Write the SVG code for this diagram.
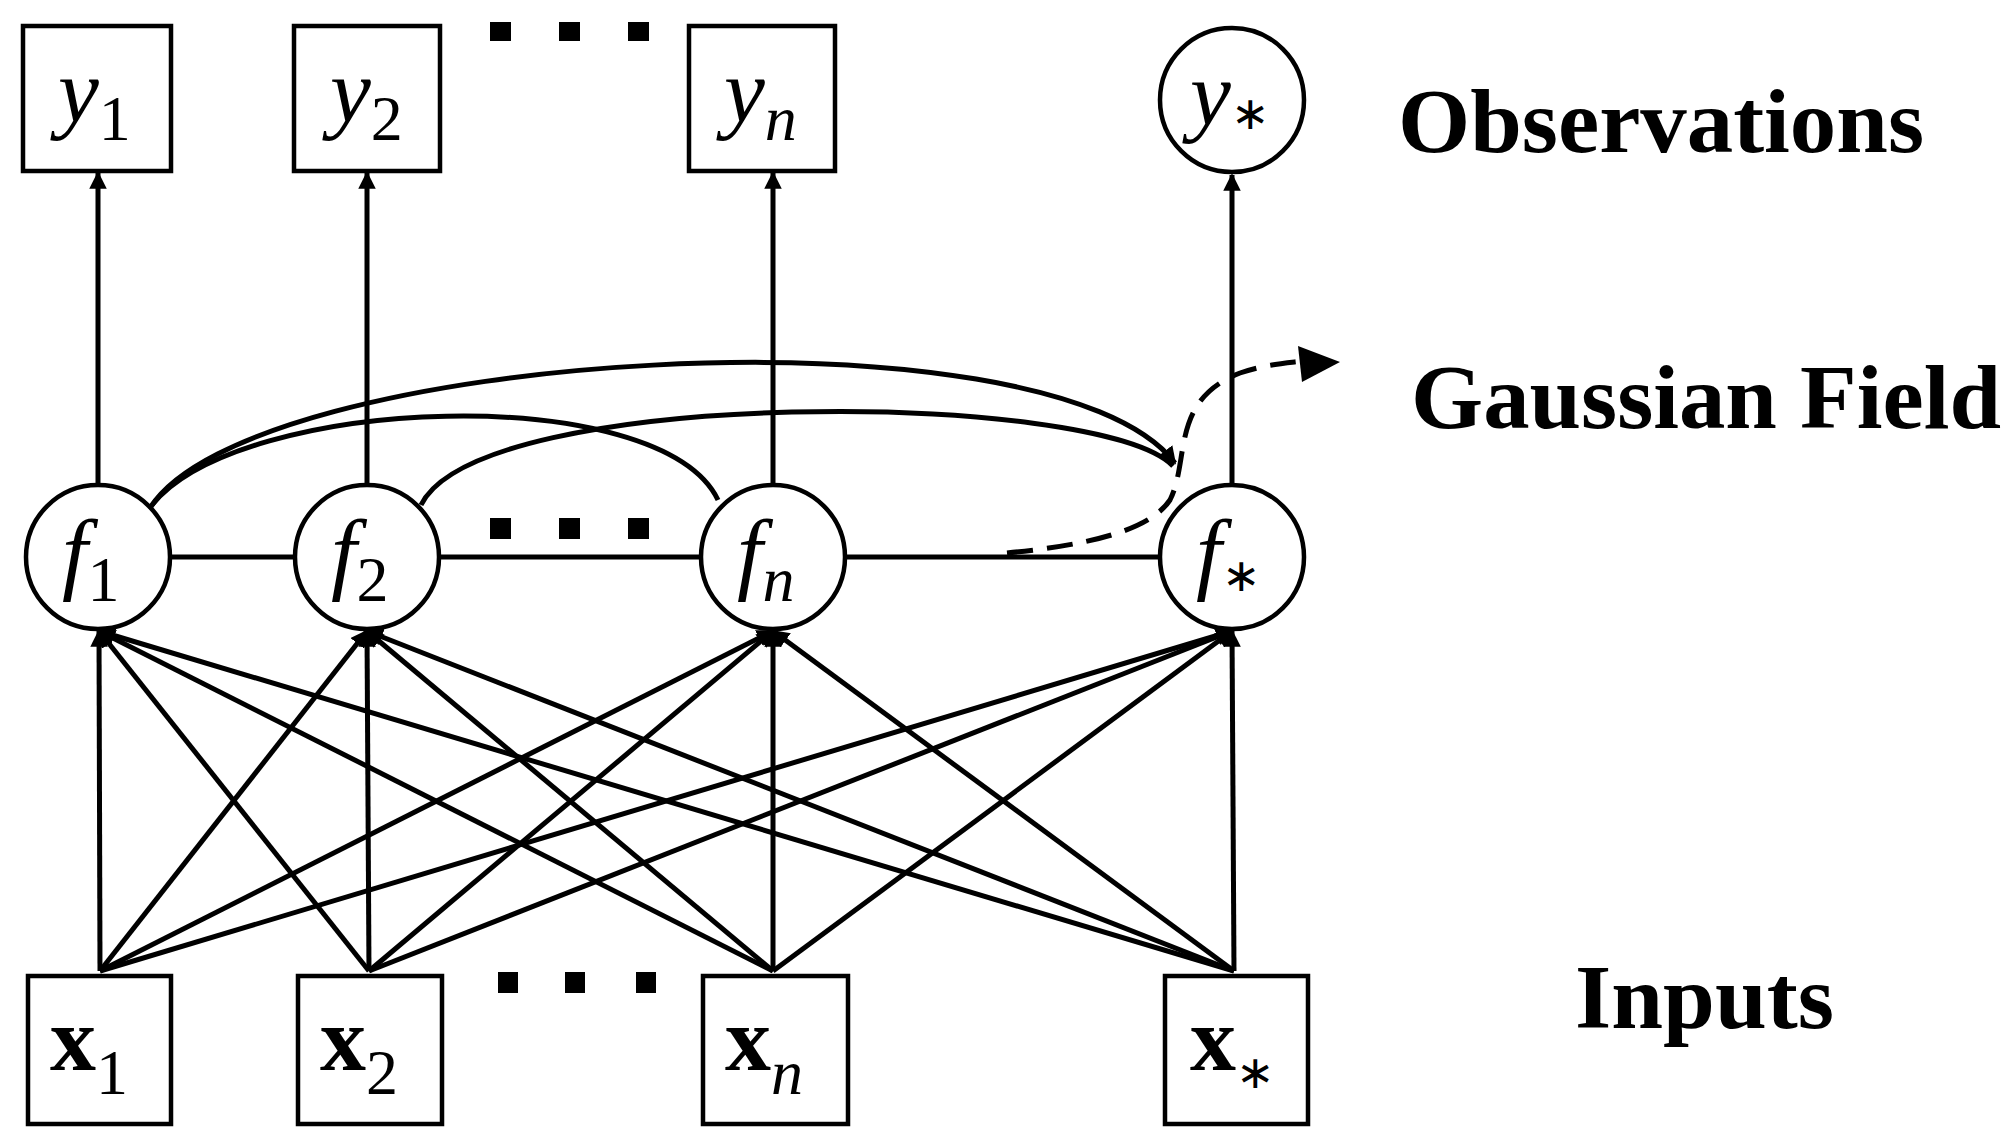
<svg xmlns="http://www.w3.org/2000/svg" width="2011" height="1137" viewBox="0 0 2011 1137">
<style>
.n{fill:#fff;stroke:#000;stroke-width:4.5}
.c{stroke:#000;stroke-width:5;fill:none}
.v{font-family:"Liberation Serif",serif;font-style:italic;font-size:92px}
.s{font-family:"Liberation Serif",serif;font-size:64px;font-style:normal;font-weight:normal}
.si{font-family:"Liberation Serif",serif;font-size:64px;font-style:italic;font-weight:normal}
.st{font-family:"Liberation Serif",serif;font-size:46px;font-style:normal;font-weight:normal}
.b{font-family:"Liberation Serif",serif;font-weight:bold;font-size:92px}
.lab{font-family:"Liberation Serif",serif;font-weight:bold;font-size:90px}
.d{fill:#000}
</style>
<defs>
<marker id="a" viewBox="0 0 10 10" refX="9" refY="5" markerWidth="3.5" markerHeight="3.5" orient="auto"><path d="M0,0L10,5L0,10z"/></marker>
</defs>
<g id="connectors">
<line class="c" x1="98" y1="484" x2="98" y2="173" marker-end="url(#a)"/>
<line class="c" x1="367" y1="484" x2="367" y2="173" marker-end="url(#a)"/>
<line class="c" x1="773" y1="484" x2="773" y2="173" marker-end="url(#a)"/>
<line class="c" x1="1232" y1="484" x2="1232" y2="175" marker-end="url(#a)"/>
<line class="c" x1="170" y1="557" x2="294" y2="557"/>
<line class="c" x1="440" y1="557" x2="700" y2="557"/>
<line class="c" x1="846" y1="557" x2="1159" y2="557"/>
<path class="c" d="M150,508 C250,350 1050,300 1175,463" marker-end="url(#a)"/>
<path class="c" d="M152,505 C240,395 660,380 718,500"/>
<path class="c" d="M421,505 C480,385 1100,390 1173,466"/>
<path d="M1007,553 C1090,545 1150,530 1170,500 C1190,460 1170,400 1240,373 C1270,363 1290,363 1310,360" fill="none" stroke="#000" stroke-width="5" stroke-dasharray="26,14"/>
<path d="M1298,346 L1340,362 L1302,382 z" fill="#000"/>
<g marker-end="url(#a)">
<line class="c" x1="100" y1="971" x2="99" y2="631"/>
<line class="c" x1="100" y1="971" x2="367" y2="631"/>
<line class="c" x1="100" y1="971" x2="773" y2="631"/>
<line class="c" x1="100" y1="971" x2="1232" y2="631"/>
<line class="c" x1="369" y1="971" x2="99" y2="631"/>
<line class="c" x1="369" y1="971" x2="367" y2="631"/>
<line class="c" x1="369" y1="971" x2="773" y2="631"/>
<line class="c" x1="369" y1="971" x2="1232" y2="631"/>
<line class="c" x1="773" y1="971" x2="99" y2="631"/>
<line class="c" x1="773" y1="971" x2="367" y2="631"/>
<line class="c" x1="773" y1="971" x2="773" y2="631"/>
<line class="c" x1="773" y1="971" x2="1232" y2="631"/>
<line class="c" x1="1234" y1="971" x2="99" y2="631"/>
<line class="c" x1="1234" y1="971" x2="367" y2="631"/>
<line class="c" x1="1234" y1="971" x2="773" y2="631"/>
<line class="c" x1="1234" y1="971" x2="1232" y2="631"/>
</g>
</g>
<g id="y1"><rect class="n" x="23" y="26" width="148" height="145"/><text class="v" x="58" y="122">y<tspan class="s" dy="18">1</tspan></text></g>
<g id="y2"><rect class="n" x="294" y="26" width="146" height="145"/><text class="v" x="330" y="122">y<tspan class="s" dy="18">2</tspan></text></g>
<g id="yn"><rect class="n" x="689" y="26" width="146" height="145"/><text class="v" x="724" y="122">y<tspan class="si" dy="18">n</tspan></text></g>
<g id="ystar"><circle class="n" cx="1232" cy="100" r="72"/><text class="v" x="1190" y="125">y<tspan class="st" dy="4">∗</tspan></text></g>
<g id="dots1"><rect class="d" x="490" y="22" width="21" height="19"/><rect class="d" x="559" y="22" width="21" height="19"/><rect class="d" x="628" y="22" width="21" height="19"/></g>
<g id="f1"><circle class="n" cx="98" cy="557" r="72"/><text class="v" x="62" y="583">f<tspan class="s" dy="18">1</tspan></text></g>
<g id="f2"><circle class="n" cx="367" cy="557" r="72"/><text class="v" x="331" y="583">f<tspan class="s" dy="18">2</tspan></text></g>
<g id="fn"><circle class="n" cx="773" cy="557" r="72"/><text class="v" x="737" y="583">f<tspan class="si" dy="18">n</tspan></text></g>
<g id="fstar"><circle class="n" cx="1232" cy="557" r="72"/><text class="v" x="1196" y="583">f<tspan class="st" dy="8">∗</tspan></text></g>
<g id="dots2"><rect class="d" x="490" y="518" width="21" height="21"/><rect class="d" x="559" y="518" width="21" height="21"/><rect class="d" x="628" y="518" width="21" height="21"/></g>
<g id="x1"><rect class="n" x="28" y="976" width="143" height="148"/><text class="b" x="50" y="1070">x<tspan class="s" dy="24">1</tspan></text></g>
<g id="x2"><rect class="n" x="298" y="976" width="144" height="148"/><text class="b" x="320" y="1070">x<tspan class="s" dy="24">2</tspan></text></g>
<g id="xn"><rect class="n" x="703" y="976" width="145" height="148"/><text class="b" x="725" y="1070">x<tspan class="si" dy="24">n</tspan></text></g>
<g id="xstar"><rect class="n" x="1165" y="976" width="143" height="148"/><text class="b" x="1190" y="1070">x<tspan class="st" dy="18">∗</tspan></text></g>
<g id="dots3"><rect class="d" x="498" y="972" width="20" height="21"/><rect class="d" x="565" y="972" width="20" height="21"/><rect class="d" x="636" y="972" width="20" height="21"/></g>
<text class="lab" x="1398" y="152" textLength="526" lengthAdjust="spacingAndGlyphs">Observations</text>
<text class="lab" x="1411" y="428" textLength="590" lengthAdjust="spacingAndGlyphs">Gaussian Field</text>
<text class="lab" x="1575" y="1028" textLength="259" lengthAdjust="spacingAndGlyphs">Inputs</text>
</svg>
